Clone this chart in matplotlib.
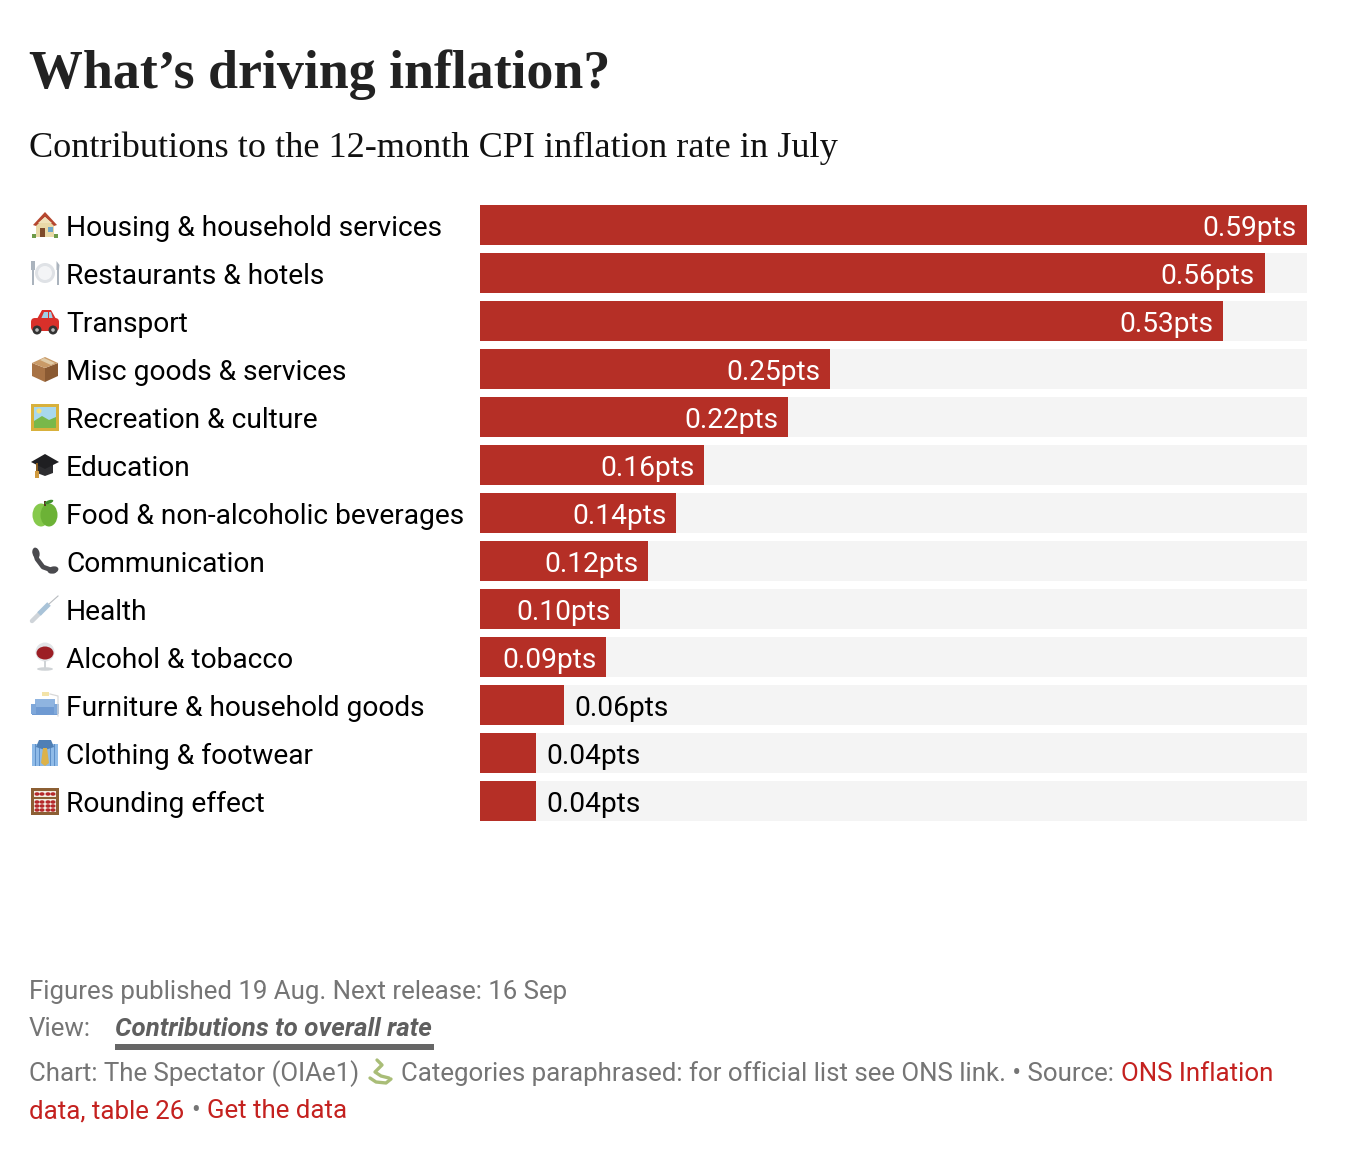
import matplotlib
matplotlib.use("Agg")
import matplotlib.pyplot as plt
from matplotlib.patches import Rectangle, Polygon, Circle, Ellipse, FancyBboxPatch

categories = ["Housing & household services", "Restaurants & hotels", "Transport",
              "Misc goods & services", "Recreation & culture", "Education",
              "Food & non-alcoholic beverages", "Communication", "Health",
              "Alcohol & tobacco", "Furniture & household goods", "Clothing & footwear",
              "Rounding effect"]
values = [0.59, 0.56, 0.53, 0.25, 0.22, 0.16, 0.14, 0.12, 0.10, 0.09, 0.06, 0.04, 0.04]
value_labels = ["0.59pts", "0.56pts", "0.53pts", "0.25pts", "0.22pts", "0.16pts", "0.14pts",
                "0.12pts", "0.10pts", "0.09pts", "0.06pts", "0.04pts", "0.04pts"]

W, H = 1350, 1154
RED = "#b52f26"
TRACK = "#f4f4f4"
GREY = "#757575"
LINK = "#c4211f"
FS = 20.25
FOOT = 18.65

fig = plt.figure(figsize=(W / 100, H / 100), dpi=100, facecolor="white")

# bars
ax = fig.add_axes([480 / W, 1 - 821 / H, 827 / W, 616 / H])
h = 40 / 48
ypos = list(range(len(values)))
ax.barh(ypos, [max(values)] * len(values), height=h, color=TRACK, linewidth=0)
ax.barh(ypos, values, height=h, color=RED, linewidth=0)
ax.set_xlim(0, max(values))
ax.set_ylim(len(values) - 1 + h / 2, -h / 2)
ax.axis("off")

for i, v in enumerate(values):
    inside = v >= 0.09
    ax.annotate(value_labels[i], (v, i), xytext=(-7.2 if inside else 7.2, -8.2),
                textcoords="offset points", ha="right" if inside else "left", va="baseline",
                color="white" if inside else "black", fontsize=FS, family="Roboto")

# overlay in pixel coordinates, for the text and the little emoji
ov = fig.add_axes([0, 0, 1, 1], zorder=5)
ov.set_xlim(0, W)
ov.set_ylim(H, 0)
ov.axis("off")
ov.patch.set_alpha(0)

ov.text(29, 88, "What\u2019s driving inflation?", fontsize=38.8, fontweight="bold",
        family="Liberation Serif", color="#222222", va="baseline")
ov.text(29, 157, "Contributions to the 12-month CPI inflation rate in July", fontsize=26.15,
        family="Liberation Serif", color="#111111", va="baseline")

for i, c in enumerate(categories):
    ov.text(66, 236 + 48 * i, c, fontsize=FS, family="Roboto", color="black", va="baseline")


def add(p):
    ov.add_patch(p)


def poly(pts, color, cx, cy):
    add(Polygon([(cx + a, cy + b) for a, b in pts], closed=True, color=color, lw=0))


def rect(x, y, w, ht, color, cx, cy):
    add(Rectangle((cx + x, cy + y), w, ht, color=color, lw=0))


def house(cx, cy):
    rect(-9, -2, 18, 14, "#e9d9a8", cx, cy)
    poly([(-12, 0), (0, -13), (12, 0), (9, 1), (0, -8), (-9, 1)], "#b5472f", cx, cy)
    poly([(-7, -2), (0, -8), (7, -2)], "#f0e3bb", cx, cy)
    rect(-5, 3, 5, 9, "#7d4a2a", cx, cy)
    rect(3, 2, 5, 5, "#6fa8c9", cx, cy)
    rect(-13, 9, 4, 4, "#6d9b4a", cx, cy)
    rect(9, 9, 4, 4, "#6d9b4a", cx, cy)


def plate(cx, cy):
    add(Circle((cx, cy), 10, color="#dfe2e6", lw=0))
    add(Circle((cx, cy), 7, color="#f3f4f6", lw=0))
    rect(-13.5, -3, 2, 15, "#aab3bd", cx, cy)
    rect(-14.5, -12, 4, 9, "#aab3bd", cx, cy)
    rect(11.5, -3, 2, 15, "#aab3bd", cx, cy)
    poly([(11.5, -3), (11.5, -12), (14.5, -8), (14, -3)], "#aab3bd", cx, cy)


def car(cx, cy):
    poly([(-8, -2), (-3, -11), (6, -11), (11, -2)], "#d9302a", cx, cy)
    poly([(-4, -2), (-1, -9), (3, -9), (3, -2)], "#9fd0e6", cx, cy)
    poly([(4, -2), (4, -9), (6, -9), (8, -2)], "#9fd0e6", cx, cy)
    add(FancyBboxPatch((cx - 14, cy - 3), 28, 13, boxstyle="round,pad=0,rounding_size=4",
                       color="#d9302a", lw=0))
    for dx in (-8, 8):
        add(Circle((cx + dx, cy + 9), 4.5, color="#333333", lw=0))
        add(Circle((cx + dx, cy + 9), 1.8, color="#bbbbbb", lw=0))


def box(cx, cy):
    poly([(-13, -6), (0, -1), (0, 13), (-13, 7)], "#a87345", cx, cy)
    poly([(13, -6), (0, -1), (0, 13), (13, 7)], "#8a5a33", cx, cy)
    poly([(-13, -6), (0, -12), (13, -6), (0, -1)], "#c99a67", cx, cy)
    poly([(-5, -9), (-1, -11), (10, -6), (6, -4)], "#e0cba8", cx, cy)


def picture(cx, cy):
    rect(-14, -13, 28, 27, "#d8b13c", cx, cy)
    rect(-11, -10, 22, 21, "#a8d8ee", cx, cy)
    poly([(-11, 4), (-3, -1), (4, 3), (11, 0), (11, 11), (-11, 11)], "#79b84a", cx, cy)
    add(Circle((cx - 6, cy - 6), 2.5, color="#f5e27a", lw=0))


def cap(cx, cy):
    poly([(-8, 0), (8, 0), (8, 8), (0, 11), (-8, 8)], "#2d2d30", cx, cy)
    poly([(-14, -3), (0, -11), (14, -3), (0, 4)], "#1f1f22", cx, cy)
    rect(-9, -2, 2, 8, "#8a5d20", cx, cy)
    poly([(-10, 6), (-6, 6), (-6, 13), (-10, 13)], "#d09a3e", cx, cy)


def apple(cx, cy):
    add(Ellipse((cx - 4, cy + 2), 17, 23, color="#86c94c", lw=0))
    add(Ellipse((cx + 4, cy + 2), 17, 23, color="#6cb236", lw=0))
    rect(-0.7, -12, 1.4, 5, "#5a3a20", cx, cy)
    add(Ellipse((cx + 4, cy - 11), 9, 3.5, angle=-20, color="#3f8f2c", lw=0))


def phone(cx, cy):
    ov.plot([cx - 10, cx - 8, cx - 2, cx + 9], [cy - 9, cy - 2, cy + 6, cy + 10], color="#4a4a4e",
            lw=3.4, solid_capstyle="round")
    add(Ellipse((cx - 9, cy - 8), 7, 11, angle=-15, color="#4a4a4e", lw=0))
    add(Ellipse((cx + 8, cy + 9), 11, 7, angle=-15, color="#4a4a4e", lw=0))


def syringe(cx, cy):
    ov.plot([cx - 13, cx - 5], [cy + 12, cy + 4], color="#cfd4d9", lw=3.2, solid_capstyle="round")
    ov.plot([cx - 6, cx + 4], [cy + 5, cy - 5], color="#a9c3d8", lw=3.6, solid_capstyle="butt")
    ov.plot([cx + 4, cx + 13], [cy - 5, cy - 13], color="#b8bcc0", lw=0.8)


def wine(cx, cy):
    add(Ellipse((cx, cy - 5), 19, 19, color="#e2e5e8", lw=0))
    add(Ellipse((cx, cy - 4), 17, 13, color="#9c1e25", lw=0))
    rect(-1, 4, 2, 8, "#cfd3d6", cx, cy)
    add(Ellipse((cx, cy + 12), 16, 3.5, color="#cfd3d6", lw=0))


def sofa(cx, cy):
    rect(-10, -6, 20, 9, "#8fb4e0", cx, cy)
    rect(-13, 2, 26, 8, "#6f9ad2", cx, cy)
    rect(-14, -1, 5, 10, "#7fa8da", cx, cy)
    rect(9, -1, 5, 10, "#7fa8da", cx, cy)
    rect(-3, -13, 7, 4, "#f3e3a8", cx, cy)
    ov.plot([cx + 5, cx + 13, cx + 13], [cy - 11, cy - 9, cy + 11], color="#d9d9d9", lw=0.9)


def shirt(cx, cy):
    rect(-13, -9, 26, 22, "#8fbbe8", cx, cy)
    for dx in (-10, -6, 5, 9):
        rect(dx, -9, 1.2, 22, "#5d8fc8", cx, cy)
    poly([(-6, -13), (6, -13), (9, -6), (0, -3), (-9, -6)], "#4f7fb5", cx, cy)
    poly([(-2, -5), (2, -5), (4, 10), (0, 13), (-4, 10)], "#dcb24a", cx, cy)


def abacus(cx, cy):
    rect(-14, -13, 28, 27, "#8c5f34", cx, cy)
    rect(-11, -10, 22, 21, "#f2ece2", cx, cy)
    rect(-11, -4, 22, 2, "#8c5f34", cx, cy)
    for r in (-7, 1, 5, 9):
        for dx in (-8, -3, 3, 8):
            add(Ellipse((cx + dx, cy + r), 5, 3.5, color="#b5282a", lw=0))


def snake(cx, cy):
    ov.plot([cx - 3, cx + 2, cx - 5, cx + 1, cx + 9], [cy - 11, cy - 6, cy + 1, cy + 5, cy + 7],
            color="#a9bd77", lw=2.4, solid_capstyle="round")
    ov.plot([cx - 10, cx - 4, cx + 6, cx + 11], [cy + 7, cy + 11, cy + 12, cy + 8],
            color="#a9bd77", lw=2.4, solid_capstyle="round")


icons = [house, plate, car, box, picture, cap, apple, phone, syringe, wine, sofa, shirt, abacus]
for i, draw_icon in enumerate(icons):
    draw_icon(45, 225 + 48 * i)

# footer
ov.text(29, 999, "Figures published 19 Aug. Next release: 16 Sep", fontsize=FOOT, family="Roboto",
        color=GREY, va="baseline")
ov.text(29, 1036, "View:", fontsize=FOOT, family="Roboto", color=GREY, va="baseline")
ov.text(115, 1036, "Contributions to overall rate", fontsize=FOOT, family="Roboto", color="#5f5f5f",
        fontweight="bold", style="italic", va="baseline")
ov.add_patch(Rectangle((115, 1044), 319, 6, color="#666666", lw=0))

ov.text(29, 1081, "Chart: The Spectator (OIAe1)", fontsize=FOOT, family="Roboto", color=GREY, va="baseline")
snake(380, 1071)
ov.text(401, 1081, "Categories paraphrased: for official list see ONS link. \u2022 Source:", fontsize=FOOT,
        family="Roboto", color=GREY, va="baseline")
ov.text(1121, 1081, "ONS Inflation", fontsize=FOOT, family="Roboto", color=LINK, va="baseline")
ov.text(29, 1118, "data, table 26", fontsize=FOOT, family="Roboto", color=LINK, va="baseline")
ov.text(191, 1118, "\u2022", fontsize=FOOT, family="Roboto", color=GREY, va="baseline")
ov.text(207, 1118, "Get the data", fontsize=FOOT, family="Roboto", color=LINK, va="baseline")

fig.savefig("out.png", dpi=100)
